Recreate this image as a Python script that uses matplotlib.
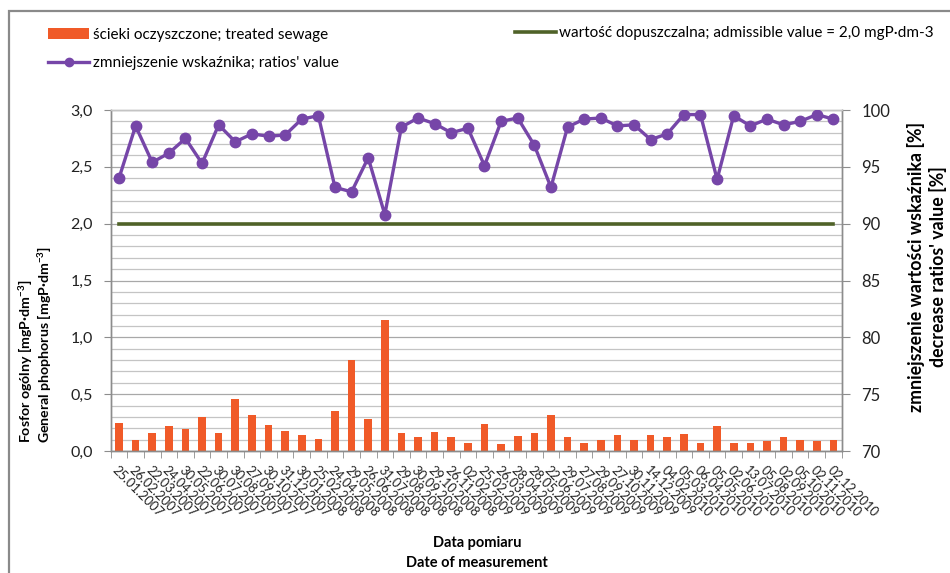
import matplotlib
matplotlib.use("Agg")
import matplotlib.pyplot as plt
import numpy as np
from matplotlib.patches import Rectangle, Patch
from matplotlib.lines import Line2D
from matplotlib.ticker import MultipleLocator, FixedLocator, FuncFormatter

plt.rcParams["font.family"] = ["Lato", "DejaVu Sans"]
plt.rcParams["mathtext.fontset"] = "custom"
plt.rcParams["mathtext.rm"] = "Lato"
plt.rcParams["mathtext.bf"] = "Lato:bold"

# sampling dates
dates = [
    "25.01.2007", "26.02.2007", "22.03.2007", "24.04.2007", "30.05.2007",
    "22.06.2007", "30.07.2007", "30.08.2007", "27.09.2007", "30.10.2007",
    "31.12.2007", "30.01.2008", "25.02.2008", "24.04.2008", "29.05.2008",
    "26.06.2008", "31.07.2008", "29.08.2008", "30.09.2008", "29.10.2008",
    "26.11.2008", "02.02.2009", "25.02.2009", "26.03.2009", "28.04.2009",
    "28.05.2009", "22.06.2009", "29.07.2009", "27.08.2009", "29.09.2009",
    "27.10.2009", "30.11.2009", "14.12.2009", "04.02.2010", "05.03.2010",
    "06.04.2010", "05.05.2010", "02.06.2010", "13.07.2010", "05.08.2010",
    "02.09.2010", "05.10.2010", "02.11.2010", "02.12.2010",
]

# total phosphorus in treated sewage [mgP/dm3]
phosphorus = [
    0.25, 0.10, 0.16, 0.22, 0.19, 0.30, 0.16, 0.46, 0.32, 0.23,
    0.18, 0.14, 0.11, 0.35, 0.80, 0.28, 1.15, 0.16, 0.12, 0.17,
    0.12, 0.07, 0.24, 0.06, 0.13, 0.16, 0.32, 0.12, 0.07, 0.10,
    0.14, 0.10, 0.14, 0.12, 0.15, 0.07, 0.22, 0.07, 0.07, 0.09,
    0.12, 0.10, 0.09, 0.10,
]

# reduction ratio [%]
reduction = [
    94.0, 98.6, 95.4, 96.2, 97.5, 95.3, 98.7, 97.2, 97.9, 97.7,
    97.8, 99.2, 99.5, 93.2, 92.8, 95.8, 90.8, 98.5, 99.3, 98.8,
    98.0, 98.4, 95.1, 99.0, 99.3, 96.9, 93.2, 98.5, 99.2, 99.3,
    98.6, 98.7, 97.4, 97.9, 99.6, 99.6, 93.9, 99.5, 98.6, 99.2,
    98.7, 99.0, 99.6, 99.2,
]

admissible = 2.0  # mgP/dm3

c_bar = "#F05A28"
c_line = "#7646A8"
c_lim = "#4F6228"
c_grid = "#c4c4c4"
c_axis = "#8c8c8c"

x = np.arange(len(dates))

fig = plt.figure(figsize=(9.5, 5.73), dpi=100)
fig.patches.append(Rectangle((9 / 950, -0.1), 1.2, 1.1 - 11 / 573,
                             transform=fig.transFigure, fill=False,
                             edgecolor="#8a8a8a", lw=1.6))

ax = fig.add_axes([0.1165, 0.2129, 0.7695, 0.5951])
ax2 = ax.twinx()

ax.bar(x, phosphorus, width=0.46, color=c_bar, zorder=2)
ax.plot([x[0], x[-1]], [admissible, admissible], color=c_lim, lw=2.6, zorder=3)
ax2.plot(x, reduction, color=c_line, lw=2.4, marker="o", markersize=7.5,
         zorder=4)

ax.set_xlim(-0.5, len(dates) - 0.5)
ax.set_ylim(0, 3.0)
ax2.set_ylim(70, 100)

ax.yaxis.set_major_locator(MultipleLocator(0.5))
ax.yaxis.set_minor_locator(MultipleLocator(0.1))
ax.yaxis.set_major_formatter(FuncFormatter(lambda v, p: f"{v:.1f}".replace(".", ",")))
ax2.yaxis.set_major_locator(MultipleLocator(5))
ax.grid(which="minor", axis="y", color=c_grid, lw=0.9, zorder=0)
ax.grid(which="major", axis="y", color="#a8a8a8", lw=0.9, zorder=0)
ax.set_axisbelow(True)

ax.set_xticks(x)
ax.set_xticklabels(dates, fontsize=9.3, color="#222222")
ax.xaxis.set_minor_locator(FixedLocator(np.arange(-0.5, len(dates), 1.0)))
ax.tick_params(axis="x", which="major", length=0, pad=9)
ax.tick_params(axis="x", which="minor", length=5, color=c_axis, direction="out")
for lbl in ax.get_xticklabels():
    lbl.set_rotation(-45)
    lbl.set_ha("left")
    lbl.set_va("top")
    lbl.set_rotation_mode("anchor")

ax.tick_params(axis="y", which="major", length=5, color=c_axis, pad=8,
               labelsize=11.5, labelcolor="#222222")
ax.tick_params(axis="y", which="minor", length=0)
ax2.tick_params(axis="y", length=6, color=c_axis, pad=8,
                labelsize=12, labelcolor="#222222")

for a in (ax, ax2):
    for s in a.spines.values():
        s.set_color(c_axis)
        s.set_linewidth(1.0)
    a.spines["top"].set_color(c_grid)

# axis titles
fig.text(26 / 950, 1 - 443 / 573, r"Fosfor ogólny [mgP·dm$^{\mathbf{-3}}$]",
         rotation=90, ha="center", va="bottom", fontsize=10.2, fontweight="bold")
fig.text(45 / 950, 1 - 443 / 573, r"General phophorus [mgP·dm$^{\mathbf{-3}}$]",
         rotation=90, ha="center", va="bottom", fontsize=10.2, fontweight="bold")
fig.text(916 / 950, 1 - 267 / 573, "zmniejszenie wartości wskaźnika [%]",
         rotation=90, ha="center", va="center", fontsize=12.8, fontweight="bold")
fig.text(938 / 950, 1 - 267 / 573, "decrease ratios' value [%]",
         rotation=90, ha="center", va="center", fontsize=12.8, fontweight="bold")
fig.text(477 / 950, 1 - 543 / 573, "Data pomiaru", ha="center", va="center",
         fontsize=10.5, fontweight="bold")
fig.text(477 / 950, 1 - 563 / 573, "Date of measurement", ha="center",
         va="center", fontsize=10.5, fontweight="bold")

# legends
h_bar = Patch(facecolor=c_bar, edgecolor="none")
h_line = Line2D([], [], color=c_line, lw=2.4, marker="o", markersize=6)
h_lim = Line2D([], [], color=c_lim, lw=2.6)
fig.legend([h_bar, h_line],
           ["ścieki oczyszczone; treated sewage",
            "zmniejszenie wskaźnika; ratios' value"],
           loc="upper left", bbox_to_anchor=(48 / 950, 1 - 28 / 573),
           frameon=False, fontsize=11, borderpad=0, handlelength=2.7,
           handletextpad=0.25, labelspacing=0.92, borderaxespad=0)
fig.legend([h_lim], ["wartość dopuszczalna; admissible value = 2,0 mgP·dm-3"],
           loc="upper left", bbox_to_anchor=(515 / 950, 1 - 26 / 573),
           frameon=False, fontsize=11, borderpad=0, handlelength=2.7,
           handletextpad=0.15, borderaxespad=0)

fig.savefig("out.png", dpi=100)
